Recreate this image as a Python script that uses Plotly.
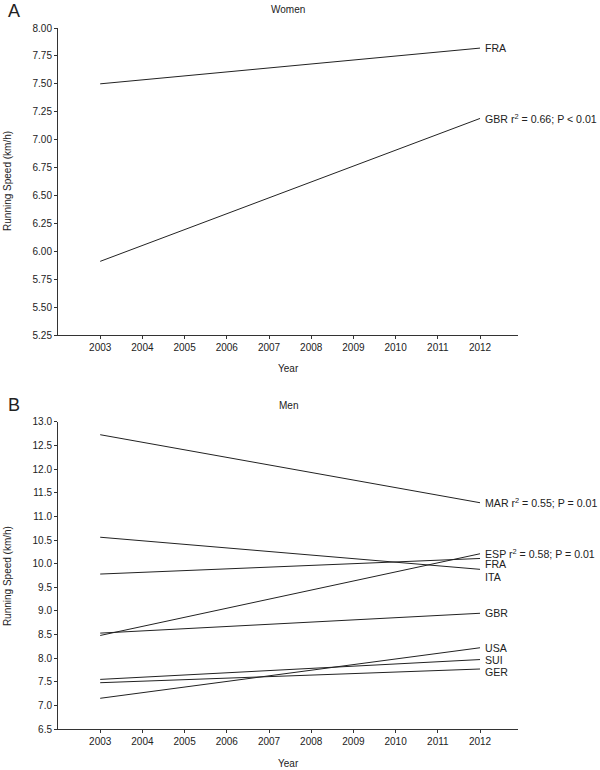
import plotly.graph_objects as go

years = [2003, 2012]

# Women (panel A): regression line endpoints (2003, 2012)
women_names = ["FRA", "GBR"]
women_start = [7.50, 5.91]
women_end = [7.82, 7.19]
women_labels = ["FRA", "GBR r<sup>2</sup> = 0.66; P &lt; 0.01"]
women_label_y = [7.82, 7.19]

# Men (panel B)
men_names = ["MAR", "ESP", "FRA", "ITA", "GBR", "USA", "SUI", "GER"]
men_start = [12.73, 8.48, 9.78, 10.56, 8.53, 7.15, 7.55, 7.48]
men_end = [11.29, 10.21, 10.11, 9.88, 8.95, 8.22, 7.97, 7.77]
men_labels = ["MAR r<sup>2</sup> = 0.55; P = 0.01", "ESP r<sup>2</sup> = 0.58; P = 0.01",
              "FRA", "ITA", "GBR", "USA", "SUI", "GER"]
men_label_y = [11.29, 10.21, 9.99, 9.72, 8.95, 8.22, 7.96, 7.71]

women_ticks = [5.25, 5.50, 5.75, 6.00, 6.25, 6.50, 6.75, 7.00, 7.25, 7.50, 7.75, 8.00]
men_ticks = [6.5, 7.0, 7.5, 8.0, 8.5, 9.0, 9.5, 10.0, 10.5, 11.0, 11.5, 12.0, 12.5, 13.0]
year_ticks = list(range(2003, 2013))

FONT = "Liberation Sans, Arial, sans-serif"
fig = go.Figure()

for n, s, e in zip(women_names, women_start, women_end):
    fig.add_trace(go.Scatter(x=years, y=[s, e], mode="lines", name=n,
                             line=dict(color="#222222", width=1),
                             xaxis="x", yaxis="y", showlegend=False))
for n, s, e in zip(men_names, men_start, men_end):
    fig.add_trace(go.Scatter(x=years, y=[s, e], mode="lines", name=n,
                             line=dict(color="#222222", width=1),
                             xaxis="x2", yaxis="y2", showlegend=False))

axis_common = dict(showline=True, linecolor="#333333", linewidth=1,
                   ticks="outside", ticklen=3, tickcolor="#333333", tickwidth=1,
                   showgrid=False, zeroline=False,
                   tickfont=dict(family=FONT, size=10, color="#222222"))

xr = [2002.0, 2012.9]
LBL = 10.6
ann = []
for t, yv in zip(women_labels, women_label_y):
    ann.append(dict(x=2012, y=yv, xref="x", yref="y", text=t, showarrow=False,
                    xanchor="left", yanchor="middle", xshift=3,
                    font=dict(family=FONT, size=LBL, color="#222222")))
for t, yv in zip(men_labels, men_label_y):
    ann.append(dict(x=2012, y=yv, xref="x2", yref="y2", text=t, showarrow=False,
                    xanchor="left", yanchor="middle", xshift=3,
                    font=dict(family=FONT, size=LBL, color="#222222")))

def pann(text, x, y, size=10, angle=0):
    return dict(x=x, y=y, xref="paper", yref="paper", text=text, showarrow=False,
                xanchor="center", yanchor="middle", textangle=angle,
                font=dict(family=FONT, size=size, color="#222222"))

ann += [
    pann("A", -0.0957, 1.0243, size=18),
    pann("B", -0.0957, 0.4622, size=18),
    pann("Women", 0.5, 1.0257),
    pann("Men", 0.5, 0.4615),
    pann("Year", 0.5, 0.5136),
    pann("Year", 0.5, -0.0499),
    pann("Running Speed (km/h)", -0.111, 0.7817, angle=-90),
    pann("Running Speed (km/h)", -0.111, 0.218, angle=-90),
]

fig.update_layout(
    width=600, height=770,
    margin=dict(l=58, r=82, t=28, b=41),
    plot_bgcolor="white", paper_bgcolor="white",
    xaxis=dict(domain=[0, 1], range=xr, tickvals=year_ticks, anchor="y", **axis_common),
    yaxis=dict(domain=[0.562, 1], range=[5.25, 8.0], tickvals=women_ticks,
               tickformat=".2f", anchor="x", **axis_common),
    xaxis2=dict(domain=[0, 1], range=xr, tickvals=year_ticks, anchor="y2", **axis_common),
    yaxis2=dict(domain=[0, 0.438], range=[6.5, 13.0], tickvals=men_ticks,
                tickformat=".1f", anchor="x2", **axis_common),
    annotations=ann,
    showlegend=False,
)

fig.write_html(
    "out.html",
    config={"displayModeBar": False},
    post_script="document.body.style.margin='0';document.body.style.padding='0';"
                "document.body.style.overflow='hidden';"
                "document.documentElement.style.overflow='hidden';",
)
